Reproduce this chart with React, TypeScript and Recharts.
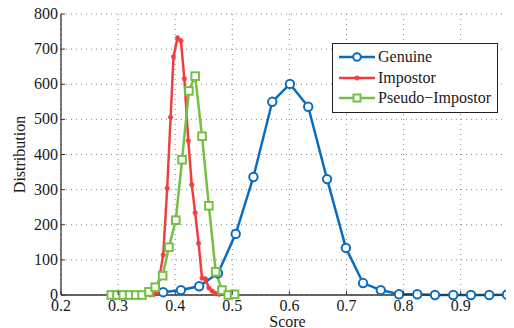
import { LineChart, Line, XAxis, YAxis, CartesianGrid, Legend } from "recharts";

const genuineX = [0.379, 0.41, 0.442, 0.475, 0.506, 0.537, 0.57, 0.601, 0.633, 0.666, 0.699, 0.729, 0.76, 0.792, 0.824, 0.855, 0.887, 0.918, 0.95, 0.981];
const genuineY = [8, 14, 25, 62, 174, 336, 550, 601, 536, 330, 134, 34, 14, 2, 2, 0, 0, 0, 0, 1];

const impostorX = [0.356, 0.362, 0.368, 0.379, 0.386, 0.392, 0.397, 0.404, 0.41, 0.416, 0.423, 0.429, 0.435, 0.441, 0.447, 0.453, 0.459, 0.465, 0.471, 0.477];
const impostorY = [0, 1, 7, 114, 304, 506, 678, 732, 724, 616, 439, 314, 234, 147, 48, 46, 20, 11, 5, 2];

const pseudoX = [0.288, 0.298, 0.309, 0.32, 0.331, 0.342, 0.354, 0.365, 0.378, 0.389, 0.401, 0.412, 0.424, 0.435, 0.447, 0.459, 0.471, 0.482, 0.493, 0.504];
const pseudoY = [0, 0, 0, 0, 0, 0, 9, 22, 55, 136, 213, 385, 581, 623, 452, 254, 66, 14, 0, 2];

const xTicks = [0.2, 0.3, 0.4, 0.5, 0.6, 0.7, 0.8, 0.9];
const yTicks = [0, 100, 200, 300, 400, 500, 600, 700, 800];

const BLUE = "#0b6dbd";
const RED = "#f03e3e";
const GREEN = "#74c043";
const FONT = "'Liberation Serif', 'Times New Roman', serif";

const genuine = genuineX.map((x, i) => ({ x, y: genuineY[i] }));
const impostor = impostorX.map((x, i) => ({ x, y: impostorY[i] }));
const pseudo = pseudoX.map((x, i) => ({ x, y: pseudoY[i] }));

function CircleDot(props: any) {
  const { cx, cy, index } = props;
  return <circle key={"g" + index} cx={cx} cy={cy} r={4.2} fill="#fff" stroke={BLUE} strokeWidth={2} />;
}

function StarDot(props: any) {
  const { cx, cy, index } = props;
  const s = 2.6;
  return (
    <g key={"r" + index} stroke={RED} strokeWidth={1.4}>
      <line x1={cx - s} y1={cy} x2={cx + s} y2={cy} />
      <line x1={cx} y1={cy - s} x2={cx} y2={cy + s} />
      <line x1={cx - s * 0.7} y1={cy - s * 0.7} x2={cx + s * 0.7} y2={cy + s * 0.7} />
      <line x1={cx - s * 0.7} y1={cy + s * 0.7} x2={cx + s * 0.7} y2={cy - s * 0.7} />
    </g>
  );
}

function SquareDot(props: any) {
  const { cx, cy, index } = props;
  const h = 3.8;
  return <rect key={"p" + index} x={cx - h} y={cy - h} width={h * 2} height={h * 2} fill="#fff" stroke={GREEN} strokeWidth={2} />;
}

function XTick(props: any) {
  const { x, y, payload } = props;
  return (
    <g>
      <line x1={x} y1={y} x2={x} y2={y - 4} stroke="#333" />
      <text x={x} y={y + 16} textAnchor="middle" fontSize={16} fill="#1a1a1a" fontFamily={FONT}>
        {payload.value.toFixed(1)}
      </text>
    </g>
  );
}

function YTick(props: any) {
  const { x, y, payload } = props;
  return (
    <g>
      <line x1={x} y1={y} x2={x + 4} y2={y} stroke="#333" />
      <text x={x - 3} y={y + 5} textAnchor="end" fontSize={16} fill="#1a1a1a" fontFamily={FONT}>
        {payload.value}
      </text>
    </g>
  );
}

const legendItems = [
  { name: "Genuine", color: BLUE, kind: "circle" },
  { name: "Impostor", color: RED, kind: "star" },
  { name: "Pseudo\u2212Impostor", color: GREEN, kind: "square" },
];

function LegendBox() {
  return (
    <div
      style={{
        background: "#fff",
        border: "1.5px solid #222",
        padding: "3px 5px 3px 6px",
        fontFamily: FONT,
        fontSize: 16,
        color: "#1a1a1a",
        lineHeight: "20.5px",
      }}
    >
      {legendItems.map((it) => (
        <div key={it.name} style={{ display: "flex", alignItems: "center" }}>
          <svg width={36} height={14} style={{ marginRight: 3 }}>
            <line x1={0} y1={7} x2={36} y2={7} stroke={it.color} strokeWidth={2.5} />
            {it.kind === "circle" && <circle cx={18} cy={7} r={3.8} fill="#fff" stroke={it.color} strokeWidth={2} />}
            {it.kind === "star" && <StarDot cx={18} cy={7} index={0} />}
            {it.kind === "square" && <rect x={14.5} y={3.5} width={7} height={7} fill="#fff" stroke={it.color} strokeWidth={2} />}
          </svg>
          <span>{it.name}</span>
        </div>
      ))}
    </div>
  );
}

export default function App() {
  return (
    <div style={{ margin: "-8px 0 0 -8px", width: 514, height: 328, background: "#fff", fontFamily: FONT }}>
      <LineChart width={514} height={328} margin={{ top: 14, right: 0, bottom: 0, left: 0 }}>
        <CartesianGrid stroke="#8a8a8a" strokeDasharray="1 4" horizontalValues={yTicks} verticalValues={xTicks} />
        <XAxis
          type="number"
          dataKey="x"
          domain={[0.2, 0.9934]}
          ticks={xTicks}
          allowDataOverflow
          height={33}
          tickSize={0}
          tickMargin={0}
          tick={<XTick />}
          stroke="#333"
          strokeWidth={1.3}
          label={{ value: "Score", position: "insideBottom", offset: 1, fontSize: 16, fill: "#1a1a1a", fontFamily: FONT }}
        />
        <YAxis
          type="number"
          domain={[0, 800]}
          ticks={yTicks}
          width={61}
          tickSize={0}
          tickMargin={0}
          tick={<YTick />}
          stroke="#333"
          strokeWidth={1.3}
          label={{
            content: (p: any) => {
              const vb = p.viewBox || { y: 14, height: 281 };
              const cy = vb.y + vb.height / 2;
              return (
                <text transform={`translate(19,${cy}) rotate(-90)`} textAnchor="middle" dominantBaseline="central" fontSize={16} fill="#1a1a1a" fontFamily={FONT}>
                  Distribution
                </text>
              );
            },
          }}
        />
        <Legend
          layout="vertical"
          align="center"
          verticalAlign="middle"
          content={() => <LegendBox />}
          wrapperStyle={{ left: 332, top: 43, width: 166 }}
        />
        <Line data={genuine} dataKey="y" name="Genuine" stroke={BLUE} strokeWidth={2.5} dot={<CircleDot />} isAnimationActive={false} />
        <Line data={impostor} dataKey="y" name="Impostor" stroke={RED} strokeWidth={2.5} dot={<StarDot />} isAnimationActive={false} />
        <Line data={pseudo} dataKey="y" name="Pseudo-Impostor" stroke={GREEN} strokeWidth={2.5} dot={<SquareDot />} isAnimationActive={false} />
      </LineChart>
    </div>
  );
}
